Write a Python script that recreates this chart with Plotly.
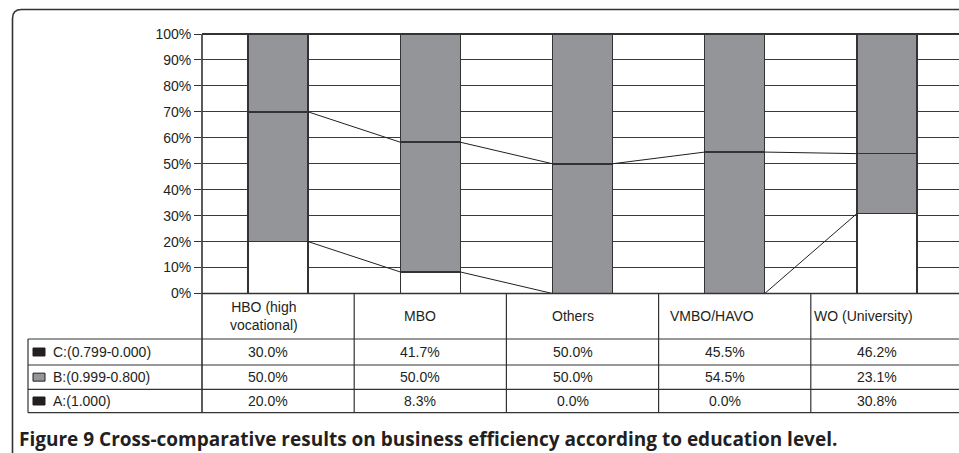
import plotly.graph_objects as go

# Education levels (columns) and share of each efficiency class (%)
categories = ["HBO (high<br>vocational)", "MBO", "Others", "VMBO/HAVO", "WO (University)"]
class_labels = ["C:(0.799-0.000)", "B:(0.999-0.800)", "A:(1.000)"]
share_a = [20.0, 8.3, 0.0, 0.0, 30.8]
share_b = [50.0, 50.0, 50.0, 54.5, 23.1]
share_c = [30.0, 41.7, 50.0, 45.5, 46.2]
y_ticks = [0, 10, 20, 30, 40, 50, 60, 70, 80, 90, 100]

# ---- layout constants (pixels) ----
W, H = 959, 453
PLOT_LEFT = 202
COL_W = 152.2
PLOT_TOP, PLOT_BOTTOM = 34, 293.5
ROW_Y = [293.5, 339, 365, 389.3, 412.7]
TABLE_LEFT = 28
BAR_W = 60 / COL_W
INK = "#231f20"
GRAY = "#939598"
FONT = "Liberation Sans, Arial, sans-serif"


def px(x):
    return x / W


def py(y):
    return 1 - y / H


n = len(categories)
xc = [i + 0.5 for i in range(n)]

fig = go.Figure()

fills = [("A", share_a, "white"), ("B", share_b, GRAY), ("C", share_c, GRAY)]
for name, vals, col in fills:
    fig.add_trace(go.Bar(
        x=xc, y=vals, width=BAR_W, name=name,
        marker=dict(color=col, line=dict(color="#333333", width=1.5)),
        showlegend=False, hoverinfo="skip",
    ))

# series lines joining segment boundaries of neighbouring bars
cum_a = share_a
cum_ab = [a + b for a, b in zip(share_a, share_b)]
for level in (cum_a, cum_ab):
    lx, ly = [], []
    for i in range(n - 1):
        lx += [xc[i] + BAR_W / 2, xc[i + 1] - BAR_W / 2, None]
        ly += [level[i], level[i + 1], None]
    fig.add_trace(go.Scatter(x=lx, y=ly, mode="lines",
                             line=dict(color=INK, width=1),
                             showlegend=False, hoverinfo="skip"))

shapes = []
line_style = dict(color="#333333", width=1.2)

# outer rounded frame (top-left corner)
r = 9
fx, fy = 12.5, 9.5
shapes.append(dict(
    type="path", xref="paper", yref="paper",
    path=(f"M {px(fx)} {py(H + 5)} L {px(fx)} {py(fy + r)} "
          f"Q {px(fx)} {py(fy)} {px(fx + r)} {py(fy)} L {px(W + 5)} {py(fy)}"),
    line=dict(color="#333333", width=1.6),
))

# plot area left border, continued through the table
shapes.append(dict(type="line", xref="paper", yref="paper",
                   x0=px(PLOT_LEFT), x1=px(PLOT_LEFT), y0=py(PLOT_TOP), y1=py(ROW_Y[-1]),
                   line=dict(color="#333333", width=1.6)))
# top border of plot area
shapes.append(dict(type="line", xref="paper", yref="paper",
                   x0=px(PLOT_LEFT), x1=1.01, y0=py(PLOT_TOP), y1=py(PLOT_TOP),
                   line=dict(color="#333333", width=2)))

# table: horizontal rules
shapes.append(dict(type="line", xref="paper", yref="paper",
                   x0=px(PLOT_LEFT), x1=1.01, y0=py(ROW_Y[0]), y1=py(ROW_Y[0]),
                   line=dict(color="#333333", width=1.6)))
for yy in ROW_Y[1:]:
    shapes.append(dict(type="line", xref="paper", yref="paper",
                       x0=px(TABLE_LEFT), x1=1.01, y0=py(yy), y1=py(yy), line=line_style))
# table: vertical rules
shapes.append(dict(type="line", xref="paper", yref="paper",
                   x0=px(TABLE_LEFT), x1=px(TABLE_LEFT), y0=py(ROW_Y[1]), y1=py(ROW_Y[-1]),
                   line=line_style))
for i in range(1, n):
    shapes.append(dict(type="line", xref="x", yref="paper",
                       x0=i, x1=i, y0=py(ROW_Y[0]), y1=py(ROW_Y[-1]), line=line_style))

annotations = []
# column headers
header_shift = [-14, -10, -10, -23, -23]
for i, cat in enumerate(categories):
    annotations.append(dict(
        x=xc[i], y=py((ROW_Y[0] + ROW_Y[1]) / 2), xref="x", yref="paper",
        xanchor="center", yanchor="middle",
        text=cat, showarrow=False, xshift=header_shift[i],
        font=dict(family=FONT, size=14, color=INK), align="center",
    ))

# data rows: C, B, A
rows = [share_c, share_b, share_a]
key_fill = [INK, GRAY, INK]
for r_i, (label, vals) in enumerate(zip(class_labels, rows)):
    yc = (ROW_Y[r_i + 1] + ROW_Y[r_i + 2]) / 2
    shapes.append(dict(type="rect", xref="paper", yref="paper",
                       x0=px(33), x1=px(45), y0=py(yc - 4), y1=py(yc + 4),
                       fillcolor=key_fill[r_i], line=dict(color=INK, width=1)))
    annotations.append(dict(
        x=px(51), y=py(yc), xref="paper", yref="paper",
        xanchor="left", yanchor="middle",
        text=label, showarrow=False,
        font=dict(family=FONT, size=14, color=INK),
    ))
    for i, v in enumerate(vals):
        annotations.append(dict(
            x=xc[i], y=py(yc), xref="x", yref="paper",
            xanchor="center", yanchor="middle",
            text=f"{v:.1f}%", showarrow=False, xshift=-10,
            font=dict(family=FONT, size=14, color=INK),
        ))

# caption
annotations.append(dict(
    x=px(17), y=py(439), xref="paper", yref="paper", xanchor="left", yanchor="middle",
    text="<b>Figure 9 Cross-comparative results on business efficiency according to education level.</b>",
    showarrow=False, font=dict(family="Open Sans, sans-serif", size=19, color=INK),
))

fig.update_layout(
    width=W, height=H,
    margin=dict(l=0, r=0, t=0, b=0, pad=0, autoexpand=False),
    paper_bgcolor="white", plot_bgcolor="white",
    barmode="stack",
    xaxis=dict(domain=[px(PLOT_LEFT), 1], range=[0, (W - PLOT_LEFT) / COL_W],
               showticklabels=False, showgrid=False, zeroline=False, ticks="",
               automargin=False),
    yaxis=dict(domain=[py(PLOT_BOTTOM), py(PLOT_TOP)], range=[0, 100],
               tickvals=y_ticks, ticktext=[f"{t}%" for t in y_ticks],
               ticks="outside", ticklen=7, tickcolor="#333333", tickwidth=1.2,
               showgrid=True, gridcolor="#3a3a3a", gridwidth=1,
               zeroline=False, showline=False, automargin=False,
               tickfont=dict(family=FONT, size=14, color=INK)),
    shapes=shapes,
    annotations=annotations,
)

fig.write_html("out.html")
